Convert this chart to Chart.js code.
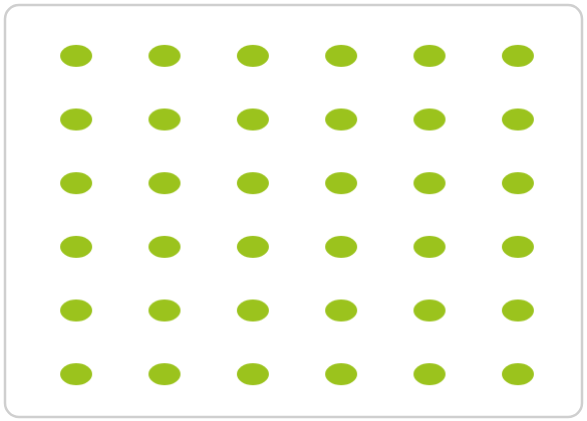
<!DOCTYPE html>
<html>
<head>
<meta charset="utf-8">
<script src="https://cdn.jsdelivr.net/npm/chart.js@4"></script>
<style>
  html, body { margin: 0; padding: 0; background: #fff; }
  #wrap { position: relative; width: 587px; height: 421px; }
</style>
</head>
<body>
<div id="wrap"><canvas id="dots" width="587" height="421"></canvas></div>
<script>
// grid of dots: columns and rows
var columns = [1, 2, 3, 4, 5, 6];
var rows = [1, 2, 3, 4, 5, 6];

var points = [];
rows.forEach(function (r) {
  columns.forEach(function (c) {
    points.push({ x: c, y: r });
  });
});

// ellipse-shaped marker
var dot = document.createElement("canvas");
dot.width = 34;
dot.height = 24;
var dctx = dot.getContext("2d");
dctx.fillStyle = "#9bc31d";
dctx.beginPath();
dctx.ellipse(17, 12, 16, 11, 0, 0, Math.PI * 2);
dctx.fill();

var frame = {
  id: "frame",
  beforeDraw: function (chart) {
    var c = chart.ctx;
    c.save();
    c.strokeStyle = "#cfcfcf";
    c.lineWidth = 2.5;
    c.beginPath();
    c.roundRect(5, 5, 577, 412, 14);
    c.stroke();
    c.restore();
  },
};

var ctx = document.getElementById("dots").getContext("2d");
var chart = new Chart(ctx, {
  type: "scatter",
  data: {
    datasets: [
      {
        label: "dots",
        data: points,
        pointStyle: dot,
        pointRadius: 12,
        pointHoverRadius: 12,
      },
    ],
  },
  options: {
    responsive: false,
    animation: false,
    layout: {
      padding: { left: 32, right: 25, top: 24, bottom: 15 },
    },
    scales: {
      x: { type: "linear", min: 0.5, max: 6.5, display: false },
      y: { type: "linear", min: 0.5, max: 6.5, display: false },
    },
    plugins: {
      legend: { display: false },
      tooltip: { enabled: false },
    },
  },
  plugins: [frame],
});
</script>
</body>
</html>
